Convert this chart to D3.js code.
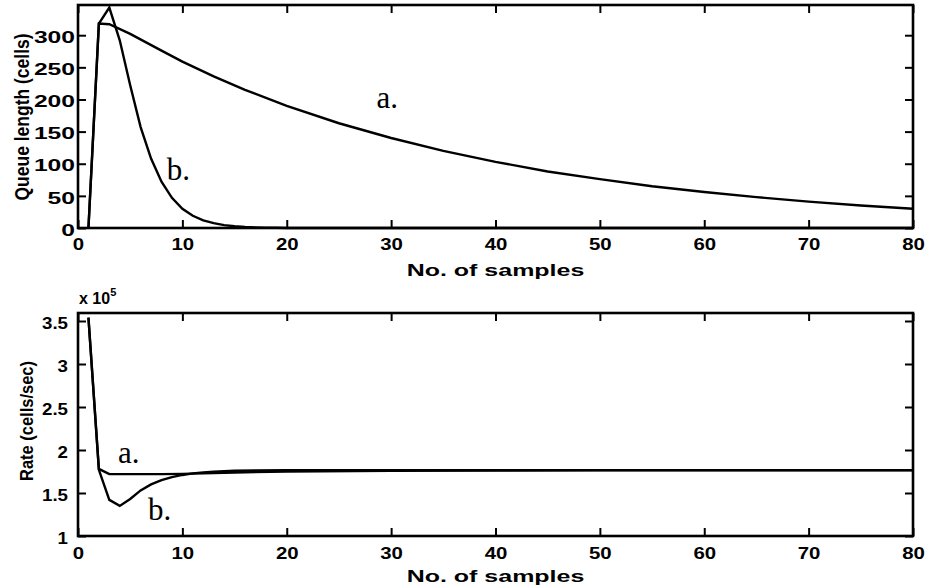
<!DOCTYPE html>
<html>
<head>
<meta charset="utf-8">
<script src="https://cdn.jsdelivr.net/npm/d3@7"></script>
<style>
  body { margin: 0; background: #fff; }
  svg { display: block; }
</style>
</head>
<body>
<svg id="chart" width="927" height="588"></svg>
<script>
// ---- Queue length (cells) per sample ----
const queueSamplesA = [1, 2, 3, 5, 8, 10, 13, 16, 20, 25, 30, 35, 40, 45, 50, 55, 60, 65, 70, 75, 80];
const queueA        = [0, 318, 317, 302, 276, 259, 236, 215, 190, 163, 140, 120, 103, 88, 76, 65, 56, 48, 41, 35, 30];
const queueSamplesB = [1, 2, 3, 4, 5, 6, 7, 8, 9, 10, 11, 12, 13, 14, 15, 16, 17, 18, 19, 20, 25, 80];
const queueB        = [0, 318, 343, 292, 222, 157, 108, 72, 47, 30, 19, 12, 7.5, 4.5, 2.7, 1.6, 1, 0.6, 0.3, 0.1, 0, 0];

// ---- Rate (x 1e5 cells/sec) per sample ----
const rateSamplesA = [1, 2, 3, 5, 8, 10, 12, 15, 20, 30, 40, 50, 60, 70, 80];
const rateA        = [3.54, 1.78, 1.72, 1.72, 1.72, 1.722, 1.728, 1.738, 1.75, 1.758, 1.762, 1.764, 1.765, 1.765, 1.765];
const rateSamplesB = [1, 2, 3, 4, 5, 6, 7, 8, 9, 10, 11, 12, 13, 14, 15, 17, 20, 25, 30, 40, 50, 60, 70, 80];
const rateB        = [3.54, 1.77, 1.42, 1.35, 1.43, 1.53, 1.60, 1.65, 1.685, 1.71, 1.728, 1.74, 1.748, 1.754, 1.758, 1.762, 1.765, 1.766, 1.766, 1.766, 1.766, 1.766, 1.766, 1.766];

// ---- Ticks and text ----
const xTicks = [0, 10, 20, 30, 40, 50, 60, 70, 80];
const queueTicks = [0, 50, 100, 150, 200, 250, 300];
const rateTicks = [1, 1.5, 2, 2.5, 3, 3.5];
const rateTickLabels = ["1", "1.5", "2", "2.5", "3", "3.5"];
const xTitle = "No. of samples";
const queueTitle = "Queue length (cells)";
const rateTitle = "Rate (cells/sec)";
const curveNames = ["a.", "b."];

const svg = d3.select("#chart");
const SANS = "'Liberation Sans', Arial, Helvetica, sans-serif";
const SERIF = "'Liberation Serif', 'Times New Roman', serif";
const LW = 2.4;

const x = d3.scaleLinear().domain([0, 80]).range([78, 913]);

function panel(opts) {
  const y = d3.scaleLinear().domain(opts.yDomain).range([opts.bottom, opts.top]);
  const g = svg.append("g");

  // inward ticks on all four sides
  const bottomAx = g.append("g").attr("transform", `translate(0,${opts.bottom})`)
    .call(d3.axisBottom(x).tickValues(xTicks).tickSizeInner(-8).tickSizeOuter(0).tickPadding(opts.xPad));
  g.append("g").attr("transform", `translate(0,${opts.top})`)
    .call(d3.axisTop(x).tickValues(xTicks).tickSizeInner(-8).tickSizeOuter(0).tickFormat(""));
  const leftAx = g.append("g").attr("transform", `translate(78,0)`)
    .call(d3.axisLeft(y).tickValues(opts.yTicks).tickSizeInner(-8).tickSizeOuter(0)
      .tickFormat((d, i) => opts.yLabels[i]));
  g.append("g").attr("transform", `translate(913,0)`)
    .call(d3.axisRight(y).tickValues(opts.yTicks).tickSizeInner(-8).tickSizeOuter(0).tickFormat(""));

  g.selectAll(".domain").remove();
  g.selectAll(".tick line").attr("stroke", "#000").attr("stroke-width", 2);

  bottomAx.selectAll("text")
    .attr("font-family", SANS).attr("font-weight", "bold").attr("font-size", 17)
    .attr("fill", "#000")
    .attr("transform", `scale(${opts.xStretch},1)`);
  leftAx.selectAll("text")
    .attr("font-family", SANS).attr("font-weight", "bold").attr("font-size", 17)
    .attr("fill", "#000")
    .attr("x", -opts.yPad / opts.yStretch)
    .attr("dy", "0.42em")
    .attr("transform", `scale(${opts.yStretch},1)`);

  // box
  g.append("rect")
    .attr("x", 78).attr("y", opts.top)
    .attr("width", 913 - 78).attr("height", opts.bottom - opts.top)
    .attr("fill", "none").attr("stroke", "#000").attr("stroke-width", 2.6);

  // curves
  const line = d3.line().x(d => x(d[0])).y(d => y(d[1]));
  opts.series.forEach(s => {
    g.append("path")
      .datum(d3.zip(s[0], s[1]))
      .attr("d", line)
      .attr("fill", "none").attr("stroke", "#000")
      .attr("stroke-width", LW).attr("stroke-linejoin", "miter");
  });

  // x title
  g.append("text")
    .attr("transform", `translate(${(78 + 913) / 2},${opts.xTitleY}) scale(1.47,1)`)
    .attr("text-anchor", "middle")
    .attr("font-family", SANS).attr("font-weight", "bold").attr("font-size", 17)
    .text(xTitle);

  // y title (glyphs widened slightly across the reading direction)
  g.append("text")
    .attr("transform", `translate(${opts.yTitleX},${opts.yTitleY}) scale(1.15,1) rotate(-90)`)
    .attr("text-anchor", "middle")
    .attr("font-family", SANS).attr("font-weight", "bold").attr("font-size", opts.yTitleSize)
    .text(opts.yTitle);

  // curve names
  opts.names.forEach(n => {
    g.append("text")
      .attr("x", x(n.at[0])).attr("y", y(n.at[1]))
      .attr("font-family", SERIF).attr("font-size", 31)
      .text(n.text);
  });
  return { g, y };
}

panel({
  top: 5, bottom: 228, yDomain: [0, 347],
  yTicks: queueTicks, yLabels: queueTicks.map(String),
  xPad: 10, yPad: 3, xStretch: 1.2, yStretch: 1.45,
  xTitleY: 276, yTitleX: 29, yTitleY: 117, yTitleSize: 17.5, yTitle: queueTitle,
  series: [[queueSamplesA, queueA], [queueSamplesB, queueB]],
  names: [{ text: curveNames[0], at: [28.6, 187] }, { text: curveNames[1], at: [8.5, 75] }]
});

panel({
  top: 313, bottom: 536, yDomain: [1, 3.593],
  yTicks: rateTicks, yLabels: rateTickLabels,
  xPad: 11, yPad: 10, xStretch: 1.2, yStretch: 1.1,
  xTitleY: 582, yTitleX: 33, yTitleY: 421, yTitleSize: 16.5, yTitle: rateTitle,
  series: [[rateSamplesA, rateA], [rateSamplesB, rateB]],
  names: [{ text: curveNames[0], at: [3.83, 1.85] }, { text: curveNames[1], at: [6.7, 1.19] }]
});

// exponent marker above the rate axis
const expo = svg.append("text")
  .attr("transform", "translate(79,304)")
  .attr("font-family", SANS).attr("font-weight", "bold").attr("font-size", 16);
expo.append("tspan").text("x 10");
expo.append("tspan").attr("dy", -8).attr("font-size", 11).text("5");
</script>
</body>
</html>
